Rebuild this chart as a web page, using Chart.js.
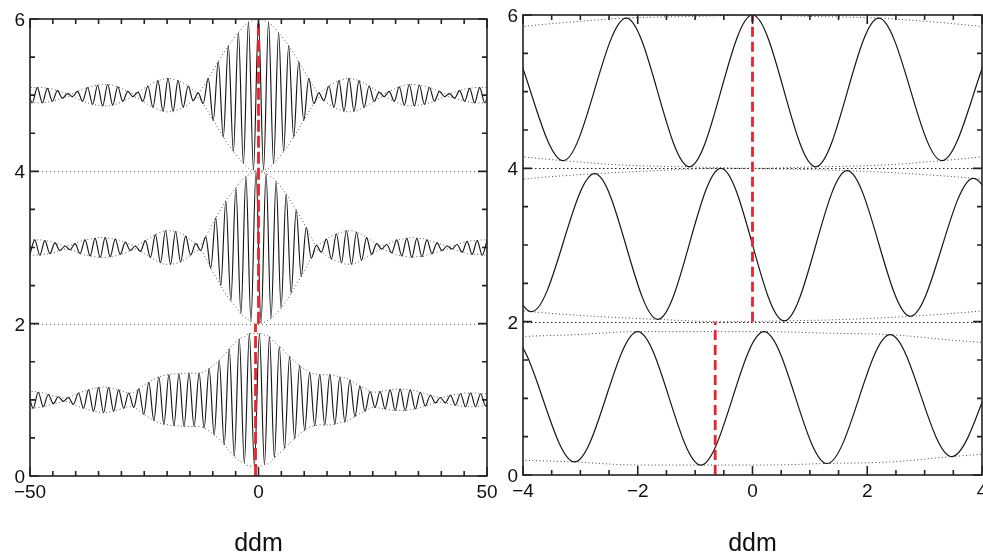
<!DOCTYPE html>
<html>
<head>
<meta charset="utf-8">
<title>ddm</title>
<script src="https://cdn.jsdelivr.net/npm/chart.js@4.4.1/dist/chart.umd.min.js"></script>
<style>
  html, body { margin: 0; padding: 0; background: #fff; }
  #wrap { position: relative; width: 983px; height: 557px; overflow: hidden; }
  canvas { position: absolute; left: 0; top: 0; }
</style>
</head>
<body>
<div id="wrap">
  <canvas id="leftChart" width="983" height="557"></canvas>
  <canvas id="rightChart" width="983" height="557"></canvas>
</div>
<script>
// fringe extremes (peak / trough), x in ddm
var topX = [-50.6,-49.5,-48.4,-47.3,-46.2,-45.1,-44.0,-42.9,-41.8,-40.7,-39.6,-38.5,-37.4,-36.3,-35.2,-34.1,-33.0,-31.9,-30.8,-29.7,-28.6,-27.5,-26.4,-25.3,-24.2,-23.1,-22.0,-20.9,-19.8,-18.7,-17.6,-16.5,-15.4,-14.3,-13.2,-12.1,-11.0,-9.9,-8.8,-7.7,-6.6,-5.5,-4.4,-3.3,-2.2,-1.1,
  0,1.1,2.2,3.3,4.4,5.5,6.6,7.7,8.8,9.9,11.0,12.1,13.2,14.3,15.4,16.5,17.6,18.7,19.8,20.9,22.0,23.1,24.2,25.3,26.4,27.5,28.6,29.7,30.8,31.9,33.0,34.1,35.2,36.3,37.4,38.5,39.6,40.7,41.8,42.9,44.0,45.1,46.2,47.3,48.4,49.5,50.6];
var topY = [5.10,4.90,5.10,4.90,5.09,4.92,5.06,4.96,5.02,4.98,5.05,4.92,5.10,4.88,5.13,4.86,5.14,4.87,5.11,4.92,5.05,4.98,5.04,4.92,5.12,4.84,5.19,4.79,5.22,4.79,5.19,4.84,5.12,4.93,5.03,4.89,5.22,4.67,5.44,4.45,5.65,4.26,5.82,4.10,5.96,4.02,
  6.00,4.02,5.96,4.10,5.82,4.26,5.65,4.45,5.44,4.67,5.22,4.89,5.03,4.93,5.12,4.84,5.19,4.79,5.22,4.79,5.19,4.84,5.12,4.92,5.04,4.98,5.05,4.92,5.11,4.87,5.14,4.86,5.13,4.88,5.10,4.92,5.05,4.98,5.02,4.96,5.06,4.92,5.09,4.90,5.10,4.90,5.10];

var midX = [-50.05,-48.95,-47.85,-46.75,-45.65,-44.55,-43.45,-42.35,-41.25,-40.15,-39.05,-37.95,-36.85,-35.75,-34.65,-33.55,-32.45,-31.35,-30.25,-29.15,-28.05,-26.95,-25.85,-24.75,-23.65,-22.55,-21.45,-20.35,-19.25,-18.15,-17.05,-15.95,-14.85,-13.75,-12.65,-11.55,-10.45,-9.35,-8.25,-7.15,-6.05,-4.95,-3.85,-2.75,-1.65,-0.55,
  0.55,1.65,2.75,3.85,4.95,6.05,7.15,8.25,9.35,10.45,11.55,12.65,13.75,14.85,15.95,17.05,18.15,19.25,20.35,21.45,22.55,23.65,24.75,25.85,26.95,28.05,29.15,30.25,31.35,32.45,33.55,34.65,35.75,36.85,37.95,39.05,40.15,41.25,42.35,43.45,44.55,45.65,46.75,47.85,48.95,50.05];
var midY = [2.90,3.10,2.90,3.09,2.92,3.06,2.96,3.02,2.97,3.05,2.92,3.10,2.89,3.12,2.87,3.13,2.88,3.11,2.91,3.07,2.96,3.02,2.95,3.09,2.87,3.17,2.80,3.22,2.78,3.21,2.81,3.15,2.90,3.05,2.96,3.14,2.73,3.39,2.50,3.61,2.30,3.78,2.13,3.93,2.03,4.00,
  2.01,3.97,2.07,3.87,2.21,3.70,2.40,3.49,2.62,3.26,2.86,3.03,2.94,3.11,2.85,3.18,2.80,3.22,2.78,3.20,2.83,3.13,2.91,3.05,2.98,3.04,2.93,3.10,2.89,3.12,2.87,3.12,2.88,3.10,2.92,3.06,2.96,3.02,2.98,3.04,2.94,3.08,2.91,3.09,2.90,3.10];

var botX = [-50.4,-49.3,-48.2,-47.1,-46.0,-44.9,-43.8,-42.7,-41.6,-40.5,-39.4,-38.3,-37.2,-36.1,-35.0,-33.9,-32.8,-31.7,-30.6,-29.5,-28.4,-27.3,-26.2,-25.1,-24.0,-22.9,-21.8,-20.7,-19.6,-18.5,-17.4,-16.3,-15.2,-14.1,-13.0,-11.9,-10.8,-9.7,-8.6,-7.5,-6.4,-5.3,-4.2,-3.1,-2.0,-0.9,
  0.2,1.3,2.4,3.47,4.55,5.7,6.8,7.9,9.0,10.1,11.2,12.3,13.4,14.5,15.6,16.7,17.8,18.9,20.0,21.1,22.2,23.3,24.4,25.5,26.6,27.7,28.8,29.9,31.0,32.1,33.2,34.3,35.4,36.5,37.6,38.7,39.8,40.9,42.0,43.1,44.2,45.3,46.4,47.5,48.6,49.7,50.8];
var botY = [1.11,0.89,1.10,0.91,1.07,0.95,1.04,0.98,1.03,0.94,1.09,0.89,1.13,0.85,1.16,0.83,1.16,0.85,1.13,0.89,1.09,0.90,1.14,0.81,1.23,0.73,1.30,0.68,1.33,0.66,1.34,0.65,1.35,0.65,1.35,0.63,1.41,0.54,1.52,0.41,1.67,0.26,1.80,0.17,1.87,0.13,
  1.87,0.15,1.83,0.24,1.70,0.36,1.57,0.49,1.45,0.60,1.36,0.66,1.33,0.67,1.33,0.68,1.30,0.71,1.26,0.78,1.18,0.85,1.11,0.90,1.11,0.88,1.13,0.86,1.14,0.86,1.13,0.88,1.10,0.92,1.06,0.96,1.03,0.96,1.06,0.93,1.08,0.91,1.09,0.91,1.08,0.92,1.08];

var centers = [5, 3, 1];
var redTopX = 0.0;     // red marker through the upper two traces
var redBotX = -0.65;   // red marker through the lower trace
var sepLines = [2, 4];
var leftXLabels = [-50, 0, 50];
var rightXLabels = [-4, -2, 0, 2, 4];
var yLabels = [0, 2, 4, 6];

var red = 'rgb(232,36,44)';

function pts(xs, ys) {
  return xs.map(function (x, i) { return {x: x, y: ys[i]}; });
}
function envelope(xs, ys, c, s) {
  return xs.map(function (x, i) { return {x: x, y: c + s * Math.abs(ys[i] - c)}; });
}

function buildDatasets(redDash, waveWidth, envColor) {
  var ds = [];
  ds.push({data: [{x: redTopX, y: 2}, {x: redTopX, y: 6}], borderColor: red, borderWidth: 2.8, borderDash: redDash});
  ds.push({data: [{x: redBotX, y: 0}, {x: redBotX, y: 2}], borderColor: red, borderWidth: 2.8, borderDash: redDash});
  var xs = [topX, midX, botX], ys = [topY, midY, botY];
  for (var i = 0; i < 3; i++) {
    ds.push({data: pts(xs[i], ys[i]), borderColor: '#161616', borderWidth: waveWidth, cubicInterpolationMode: 'monotone'});
  }
  for (var j = 0; j < 3; j++) {
    ds.push({data: envelope(xs[j], ys[j], centers[j], 1), borderColor: envColor, borderWidth: 1, borderDash: [1, 2.5], cubicInterpolationMode: 'monotone'});
    ds.push({data: envelope(xs[j], ys[j], centers[j], -1), borderColor: envColor, borderWidth: 1, borderDash: [1, 2.5], cubicInterpolationMode: 'monotone'});
  }
  return ds;
}

function fmt(v) {
  return v < 0 ? '\u2212' + Math.abs(v) : String(v);
}

var axisFrame = {
  id: 'axisFrame',
  beforeDatasetsDraw: function (chart, args, o) {
    var ctx = chart.ctx, a = chart.chartArea, y = chart.scales.y;
    ctx.save();
    ctx.strokeStyle = o.sepColor;
    ctx.lineWidth = 1;
    ctx.setLineDash(o.sepDash);
    sepLines.forEach(function (v) {
      var py = Math.round(y.getPixelForValue(v)) + 0.5;
      ctx.beginPath();
      ctx.moveTo(a.left, py);
      ctx.lineTo(a.right, py);
      ctx.stroke();
    });
    ctx.restore();
  },
  afterDraw: function (chart, args, o) {
    var ctx = chart.ctx, a = chart.chartArea, x = chart.scales.x, y = chart.scales.y;
    ctx.save();
    ctx.strokeStyle = '#222';
    ctx.lineWidth = 1.6;
    ctx.strokeRect(a.left, a.top, a.right - a.left, a.bottom - a.top);

    // ticks point inward on all four sides
    var n = Math.round((x.max - x.min) / o.xStep), i, v, len, p;
    for (i = 0; i <= n; i++) {
      v = x.min + i * o.xStep;
      len = o.xLabels.indexOf(v) >= 0 ? 9 : 5;
      p = x.getPixelForValue(v);
      ctx.beginPath();
      ctx.moveTo(p, a.bottom); ctx.lineTo(p, a.bottom - len);
      ctx.moveTo(p, a.top); ctx.lineTo(p, a.top + len);
      ctx.stroke();
    }
    n = Math.round((y.max - y.min) / o.yStep);
    for (i = 0; i <= n; i++) {
      v = y.min + i * o.yStep;
      len = yLabels.indexOf(v) >= 0 ? 9 : 5;
      p = y.getPixelForValue(v);
      ctx.beginPath();
      ctx.moveTo(a.left, p); ctx.lineTo(a.left + len, p);
      ctx.moveTo(a.right, p); ctx.lineTo(a.right - len, p);
      ctx.stroke();
    }

    ctx.fillStyle = '#111';
    ctx.font = '19px "Liberation Sans", Arial, sans-serif';
    ctx.textBaseline = 'alphabetic';
    ctx.textAlign = 'center';
    o.xLabels.forEach(function (v) {
      ctx.fillText(fmt(v), x.getPixelForValue(v), a.bottom + 22);
    });
    ctx.textAlign = 'right';
    yLabels.forEach(function (v) {
      ctx.fillText(fmt(v), a.left - 5, y.getPixelForValue(v) + 7);
    });

    ctx.textAlign = 'center';
    ctx.font = '25px "Liberation Sans", Arial, sans-serif';
    ctx.fillText('ddm', (a.left + a.right) / 2, 551);
    ctx.restore();
  }
};

function makeChart(id, xMin, xMax, pad, frameOpts, redDash, waveWidth, envColor) {
  return new Chart(document.getElementById(id), {
    type: 'line',
    data: {datasets: buildDatasets(redDash, waveWidth, envColor)},
    options: {
      responsive: false,
      animation: false,
      devicePixelRatio: 1,
      layout: {padding: pad},
      elements: {point: {radius: 0, hoverRadius: 0}, line: {fill: false}},
      plugins: {legend: {display: false}, tooltip: {enabled: false}, axisFrame: frameOpts},
      events: [],
      scales: {
        x: {type: 'linear', min: xMin, max: xMax, display: false},
        y: {type: 'linear', min: 0, max: 6, display: false}
      }
    },
    plugins: [axisFrame]
  });
}

makeChart('leftChart', -50, 50, {left: 30, top: 19, right: 496, bottom: 81},
  {xStep: 5, yStep: 0.5, xLabels: leftXLabels, sepColor: '#666', sepDash: [1, 3]},
  [12, 4], 1.15, '#555');

makeChart('rightChart', -4, 4, {left: 523, top: 15, right: 1, bottom: 82},
  {xStep: 0.5, yStep: 0.5, xLabels: rightXLabels, sepColor: '#222', sepDash: [1.5, 2.5]},
  [10, 5], 1.2, '#444');
</script>
</body>
</html>
